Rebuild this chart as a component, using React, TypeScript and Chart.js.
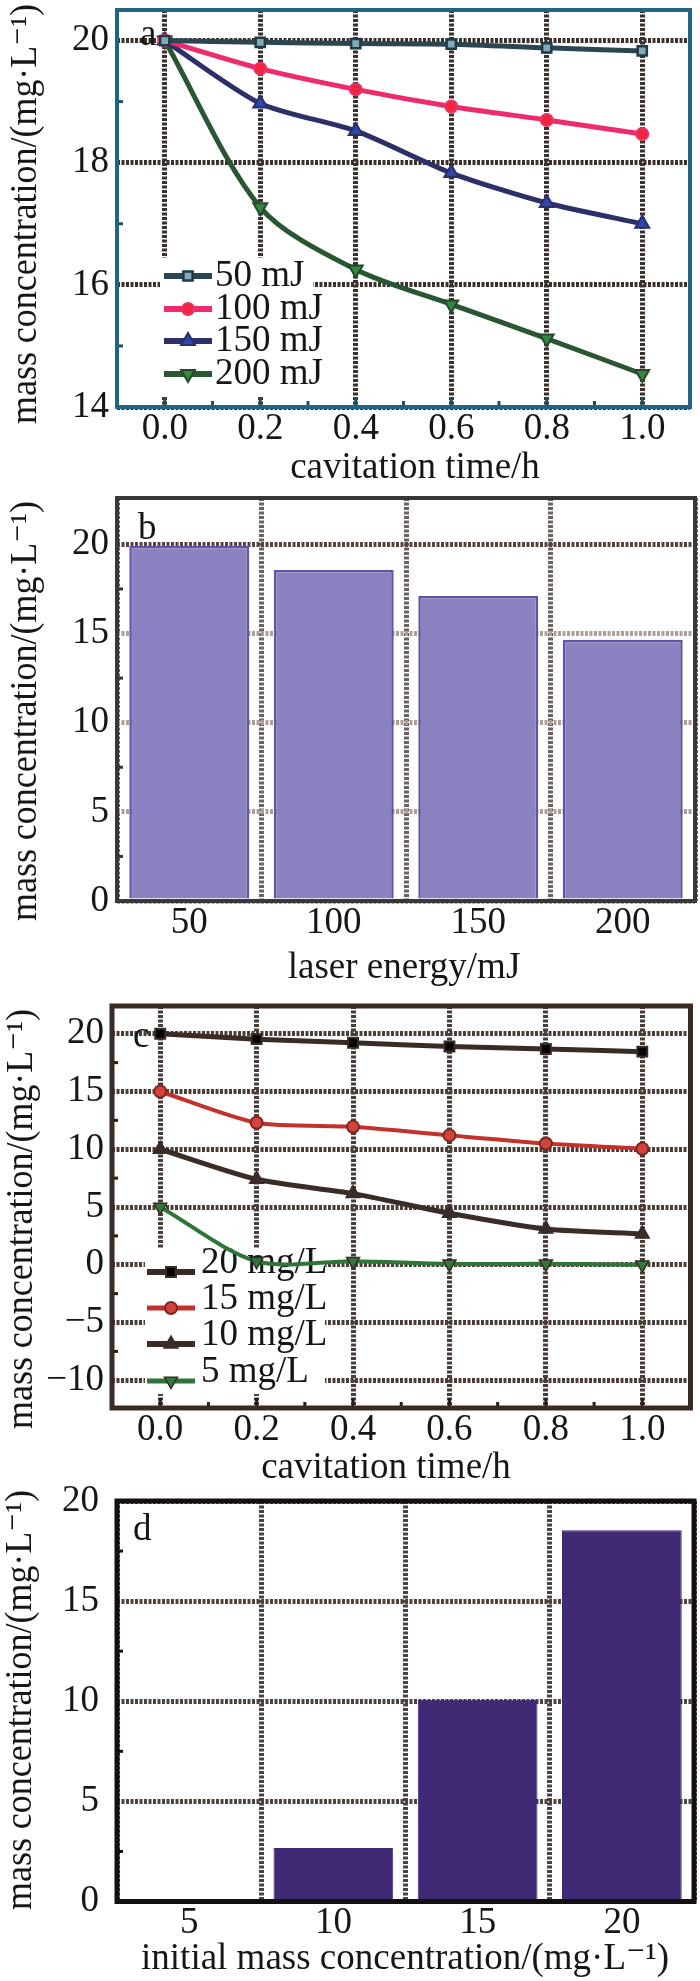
import React, { useEffect, useRef } from 'react';
import { Chart, registerables } from 'chart.js';
Chart.register(...registerables);

const FONT = '"Liberation Serif", "Times New Roman", "DejaVu Serif", serif';
const FS = 37;
const TXT = '#161616';

// ---------- data ----------
const timeH = [0, 0.2, 0.4, 0.6, 0.8, 1.0];
const energy50 = [20, 19.97, 19.95, 19.94, 19.88, 19.83];
const energy100 = [20, 19.54, 19.2, 18.92, 18.7, 18.47];
const energy150 = [20, 18.97, 18.52, 17.83, 17.34, 17.0];
const energy200 = [20, 17.27, 16.25, 15.68, 15.12, 14.54];
const energyLabels = ['50', '100', '150', '200'];
const energyFinal = [19.92, 18.56, 17.1, 14.65];
const init20 = [20, 19.53, 19.22, 18.9, 18.68, 18.45];
const init15 = [15, 12.29, 11.94, 11.2, 10.5, 10.04];
const init10 = [10, 7.4, 6.16, 4.46, 3.1, 2.67];
const init5 = [5, 0.3, 0.31, 0.08, 0.08, 0.0];
const initLabels = ['5', '10', '15', '20'];
const initFinal = [0, 2.67, 10.07, 18.54];

const yTicksA = [14, 16, 18, 20];
const yTicksB = [0, 5, 10, 15, 20];
const yTicksC = [-10, -5, 0, 5, 10, 15, 20];
const yTicksD = [0, 5, 10, 15, 20];

const Y_TITLE = 'mass concentration/(mg·L⁻¹)';
const X_TITLE_A = 'cavitation time/h';
const X_TITLE_B = 'laser energy/mJ';
const X_TITLE_C = 'cavitation time/h';
const X_TITLE_D = 'initial mass concentration/(mg·L⁻¹)';

const pts = (ys: number[]) => timeH.map((t, i) => ({ x: t, y: ys[i] }));
const fmtY = (v: any) => String(v).replace('-', '−');
const font = { family: FONT, size: FS };

// ---------- helpers ----------
function drawMarker(ctx: CanvasRenderingContext2D, style: string, x: number, y: number, r: number, rot: number, fill: string, stroke: string, bw: number) {
  ctx.save();
  ctx.translate(x, y);
  ctx.rotate((rot * Math.PI) / 180);
  ctx.beginPath();
  if (style === 'rect') {
    const s = r * Math.SQRT1_2;
    ctx.rect(-s, -s, 2 * s, 2 * s);
  } else if (style === 'triangle') {
    for (let k = 0; k < 3; k++) {
      const a = (k * 2 * Math.PI) / 3;
      const px = Math.sin(a) * r;
      const py = -Math.cos(a) * r;
      if (k === 0) ctx.moveTo(px, py); else ctx.lineTo(px, py);
    }
    ctx.closePath();
  } else {
    ctx.arc(0, 0, r, 0, Math.PI * 2);
  }
  ctx.fillStyle = fill;
  ctx.fill();
  ctx.lineWidth = bw;
  ctx.strokeStyle = stroke;
  ctx.stroke();
  ctx.restore();
}

const framePlugin = (color: string, width: number) => ({
  id: 'frame',
  afterDraw(chart: any) {
    const { ctx, chartArea: { left, top, right, bottom } } = chart;
    ctx.save();
    ctx.strokeStyle = color;
    ctx.lineWidth = width;
    ctx.strokeRect(left, top, right - left, bottom - top);
    ctx.restore();
  },
});

const minorTicksPlugin = (color: string, xTicks: boolean) => ({
  id: 'minorTicks',
  afterDraw(chart: any) {
    const { ctx, chartArea: { left, bottom } } = chart;
    const ys = chart.scales.y;
    const xs = chart.scales.x;
    ctx.save();
    ctx.strokeStyle = color;
    ctx.lineWidth = 3;
    const yv = ys.ticks.map((t: any) => t.value);
    for (let i = 0; i < yv.length - 1; i++) {
      const py = ys.getPixelForValue((yv[i] + yv[i + 1]) / 2);
      ctx.beginPath();
      ctx.moveTo(left, py);
      ctx.lineTo(left + 6, py);
      ctx.stroke();
    }
    if (xTicks) {
      const xv = xs.ticks.map((t: any) => t.value);
      const all: number[] = [];
      for (let i = 0; i < xv.length; i++) {
        all.push(xv[i]);
        if (i < xv.length - 1) all.push((xv[i] + xv[i + 1]) / 2);
      }
      all.forEach((v, k) => {
        const px = xs.getPixelForValue(v);
        ctx.beginPath();
        ctx.moveTo(px, bottom);
        ctx.lineTo(px, bottom - (k % 2 === 0 ? 10 : 6));
        ctx.stroke();
      });
    }
    ctx.restore();
  },
});

// letter: offsets relative to chart area top-left corner; titles in canvas coords
type Letter = { text: string; dx: number; dy: number };
type TextSpec = { text: string; x: number; y: number };
const textPlugin = (letter: Letter, xt: TextSpec, yt: TextSpec) => ({
  id: 'texts',
  afterDraw(chart: any) {
    const ctx = chart.ctx;
    const ca = chart.chartArea;
    ctx.save();
    ctx.font = `${FS}px ${FONT}`;
    ctx.fillStyle = TXT;
    ctx.textBaseline = 'alphabetic';
    ctx.textAlign = 'left';
    ctx.fillText(letter.text, ca.left + letter.dx, ca.top + letter.dy);
    ctx.textAlign = 'center';
    ctx.textBaseline = 'middle';
    ctx.fillText(xt.text, xt.x, xt.y);
    ctx.translate(yt.x, yt.y);
    ctx.rotate(-Math.PI / 2);
    ctx.fillText(yt.text, 0, 0, 420);
    ctx.restore();
  },
});

type LegendOpts = { bg: [number, number, number, number]; rows: number[]; lineDy: number; x1: number; x2: number; tx: number };
const legendPlugin = (o: LegendOpts) => ({
  id: 'inLegend',
  beforeDatasetsDraw(chart: any) {
    const ctx = chart.ctx;
    ctx.save();
    ctx.fillStyle = '#ffffff';
    ctx.fillRect(o.bg[0], o.bg[1], o.bg[2] - o.bg[0], o.bg[3] - o.bg[1]);
    chart.data.datasets.forEach((ds: any, i: number) => {
      const y = o.rows[i];
      const ly = y + o.lineDy;
      ctx.strokeStyle = ds.borderColor;
      ctx.lineWidth = ds.borderWidth + 1;
      ctx.beginPath();
      ctx.moveTo(o.x1, ly);
      ctx.lineTo(o.x2, ly);
      ctx.stroke();
      drawMarker(ctx, ds.pointStyle, (o.x1 + o.x2) / 2, ly, ds.pointRadius, ds.pointRotation || 0, ds.pointBackgroundColor, ds.pointBorderColor, ds.pointBorderWidth);
      ctx.font = `${FS}px ${FONT}`;
      ctx.fillStyle = TXT;
      ctx.textBaseline = 'middle';
      ctx.textAlign = 'left';
      ctx.fillText(ds.label, o.tx, y);
    });
    ctx.restore();
  },
});

function baseOptions(pad: any) {
  return {
    responsive: false,
    animation: false,
    devicePixelRatio: 1,
    layout: { padding: pad },
    plugins: { legend: { display: false }, tooltip: { enabled: false } },
  };
}

// fixed-size axes: no extra padding requested for edge labels
const fixWidth = (w: number) => (s: any) => {
  s.width = w;
  s.paddingTop = 0;
  s.paddingBottom = 0;
  s.paddingLeft = 0;
  s.paddingRight = 0;
};
const fixHeight = (h: number) => (s: any) => {
  s.height = h;
  s.paddingTop = 0;
  s.paddingBottom = 0;
  s.paddingLeft = 0;
  s.paddingRight = 0;
};

function yAxis(min: number, max: number, tickVals: number[], width: number, labelPad: number, gridColor: any, dash: number[], gw: number) {
  return {
    type: 'linear',
    min,
    max,
    afterFit: fixWidth(width),
    afterBuildTicks: (s: any) => { s.ticks = tickVals.map((v) => ({ value: v })); },
    ticks: { callback: fmtY, font, color: TXT, padding: labelPad, autoSkip: false },
    grid: { color: gridColor, lineWidth: gw, drawTicks: false },
    border: { display: false, dash },
  };
}

function xTimeAxis(height: number, gridColor: string, dash: number[]) {
  return {
    type: 'linear',
    min: -0.1,
    max: 1.1,
    afterFit: fixHeight(height),
    afterBuildTicks: (s: any) => { s.ticks = timeH.map((v) => ({ value: v })); },
    ticks: { callback: (v: any) => Number(v).toFixed(1), font, color: TXT, padding: 0, autoSkip: false, maxRotation: 0 },
    grid: { color: gridColor, lineWidth: 5, drawTicks: false },
    border: { display: false, dash },
  };
}

function xCatAxis(height: number, gridColor: string, dash: number[]) {
  return {
    type: 'category',
    afterFit: fixHeight(height),
    ticks: { font, color: TXT, padding: 0, autoSkip: false, maxRotation: 0 },
    grid: { color: gridColor, lineWidth: 5, drawTicks: false, offset: true },
    border: { display: false, dash },
  };
}

const DOT = [3, 1.5];

// ---------- panel configs ----------
const configA = () => ({
  type: 'line',
  data: {
    datasets: [
      { label: '50 mJ', data: pts(energy50), borderColor: '#2b4650', borderWidth: 5, pointStyle: 'rect', pointRadius: 6.5, pointBackgroundColor: '#86a8b8', pointBorderColor: '#1d3c48', pointBorderWidth: 2.5, tension: 0.25 },
      { label: '100 mJ', data: pts(energy100), borderColor: '#ee2b6c', borderWidth: 5, pointStyle: 'circle', pointRadius: 6, pointBackgroundColor: '#f2243e', pointBorderColor: '#e8346c', pointBorderWidth: 2, tension: 0.25 },
      { label: '150 mJ', data: pts(energy150), borderColor: '#2c2f68', borderWidth: 5, pointStyle: 'triangle', pointRadius: 8, pointBackgroundColor: '#2f46b0', pointBorderColor: '#2a2f6a', pointBorderWidth: 2, tension: 0.25 },
      { label: '200 mJ', data: pts(energy200), borderColor: '#2b5632', borderWidth: 5, pointStyle: 'triangle', pointRotation: 180, pointRadius: 8, pointBackgroundColor: '#2f8a40', pointBorderColor: '#2a472c', pointBorderWidth: 2, tension: 0.3 },
    ],
  },
  options: {
    ...baseOptions({ top: 4, right: 5, left: 0, bottom: 0 }),
    scales: {
      x: xTimeAxis(83, '#3b302c', DOT),
      y: yAxis(14, 20.5, yTicksA, 117, 8, '#3b302c', DOT, 5),
    },
  },
  plugins: [
    legendPlugin({ bg: [160, 258, 313, 397], rows: [276, 309, 341, 374], lineDy: 0, x1: 164, x2: 212, tx: 215 }),
    minorTicksPlugin('#1f4f62', true),
    framePlugin('#1f6480', 4),
    textPlugin({ text: 'a', dx: 23, dy: 35 }, { text: X_TITLE_A, x: 415, y: 468 }, { text: Y_TITLE, x: 26, y: 214 }),
  ],
});

const configB = () => ({
  type: 'bar',
  data: {
    labels: energyLabels,
    datasets: [
      { label: 'b', data: energyFinal, backgroundColor: '#8b83c1', borderColor: '#5f55a6', borderWidth: 2.5, barPercentage: 0.83, categoryPercentage: 1 },
    ],
  },
  options: {
    ...baseOptions({ top: 8, right: 5, left: 0, bottom: 0 }),
    scales: {
      x: xCatAxis(89, '#6f625c', DOT),
      y: yAxis(0, 22.6, yTicksB, 117, 8, (c: any) => (c.tick && c.tick.value === 20 ? '#54463f' : '#ad9f98'), DOT, 5),
    },
  },
  plugins: [
    minorTicksPlugin('#333333', false),
    framePlugin('#383838', 4),
    textPlugin({ text: 'b', dx: 21, dy: 41 }, { text: X_TITLE_B, x: 404, y: 478 }, { text: Y_TITLE, x: 26, y: 221 }),
  ],
});

const configC = () => ({
  type: 'line',
  data: {
    datasets: [
      { label: '20 mg/L', data: pts(init20), borderColor: '#3a2b25', borderWidth: 5, pointStyle: 'rect', pointRadius: 7, pointBackgroundColor: '#050505', pointBorderColor: '#3a2b25', pointBorderWidth: 2, tension: 0.25 },
      { label: '15 mg/L', data: pts(init15), borderColor: '#c2322a', borderWidth: 4, pointStyle: 'circle', pointRadius: 6, pointBackgroundColor: '#d2443a', pointBorderColor: '#7a2a22', pointBorderWidth: 2, tension: 0.25 },
      { label: '10 mg/L', data: pts(init10), borderColor: '#3a2d28', borderWidth: 5, pointStyle: 'triangle', pointRadius: 8, pointBackgroundColor: '#3a2d28', pointBorderColor: '#3a2d28', pointBorderWidth: 1.5, tension: 0.25 },
      { label: '5 mg/L', data: pts(init5), borderColor: '#2e7538', borderWidth: 4, pointStyle: 'triangle', pointRotation: 180, pointRadius: 7.5, pointBackgroundColor: '#2f7a3a', pointBorderColor: '#3a2b25', pointBorderWidth: 1.5, tension: 0.3 },
    ],
  },
  options: {
    ...baseOptions({ top: 16, right: 6, left: 0, bottom: 0 }),
    scales: {
      x: xTimeAxis(82, '#4a3c36', DOT),
      y: yAxis(-12.4, 22.4, yTicksC, 112, 8, '#4a3c36', DOT, 5),
    },
  },
  plugins: [
    legendPlugin({ bg: [145, 258, 325, 404], rows: [273, 309, 345, 382], lineDy: 9, x1: 147, x2: 195, tx: 201 }),
    minorTicksPlugin('#2a1c16', true),
    framePlugin('#3a2a22', 5),
    textPlugin({ text: 'c', dx: 21, dy: 41 }, { text: X_TITLE_C, x: 386, y: 478 }, { text: Y_TITLE, x: 22.5, y: 229 }),
  ],
});

// panel d canvas starts 12px higher so the rotated title is not clipped
const configD = () => ({
  type: 'bar',
  data: {
    labels: initLabels,
    datasets: [
      { label: 'd', data: initFinal, backgroundColor: '#412a75', borderColor: '#3c2870', borderWidth: 1, barPercentage: 0.83, categoryPercentage: 1 },
    ],
  },
  options: {
    ...baseOptions({ top: 23, right: 6, left: 0, bottom: 0 }),
    scales: {
      x: xCatAxis(79.5, '#4e423c', DOT),
      y: yAxis(0, 20, yTicksD, 117, 18, '#4e423c', DOT, 5),
    },
  },
  plugins: [
    minorTicksPlugin('#141010', false),
    framePlugin('#141010', 5),
    textPlugin({ text: 'd', dx: 16, dy: 39 }, { text: X_TITLE_D, x: 405, y: 481 }, { text: Y_TITLE, x: 21.5, y: 222 }),
  ],
});

function Panel({ top, height, make }: { top: number; height: number; make: () => any }) {
  const ref = useRef<HTMLCanvasElement>(null);
  useEffect(() => {
    const chart = new Chart(ref.current as HTMLCanvasElement, make() as any);
    return () => chart.destroy();
  }, []);
  return (
    <canvas
      ref={ref}
      width={700}
      height={height}
      style={{ position: 'absolute', left: 0, top, width: 700, height, display: 'block' }}
    />
  );
}

export default function App() {
  return (
    <div style={{ position: 'absolute', left: 0, top: 0, width: 700, height: 1981, background: '#ffffff', overflow: 'hidden' }}>
      <Panel top={0} height={490} make={configA} />
      <Panel top={490} height={500} make={configB} />
      <Panel top={990} height={500} make={configC} />
      <Panel top={1478} height={503} make={configD} />
    </div>
  );
}
